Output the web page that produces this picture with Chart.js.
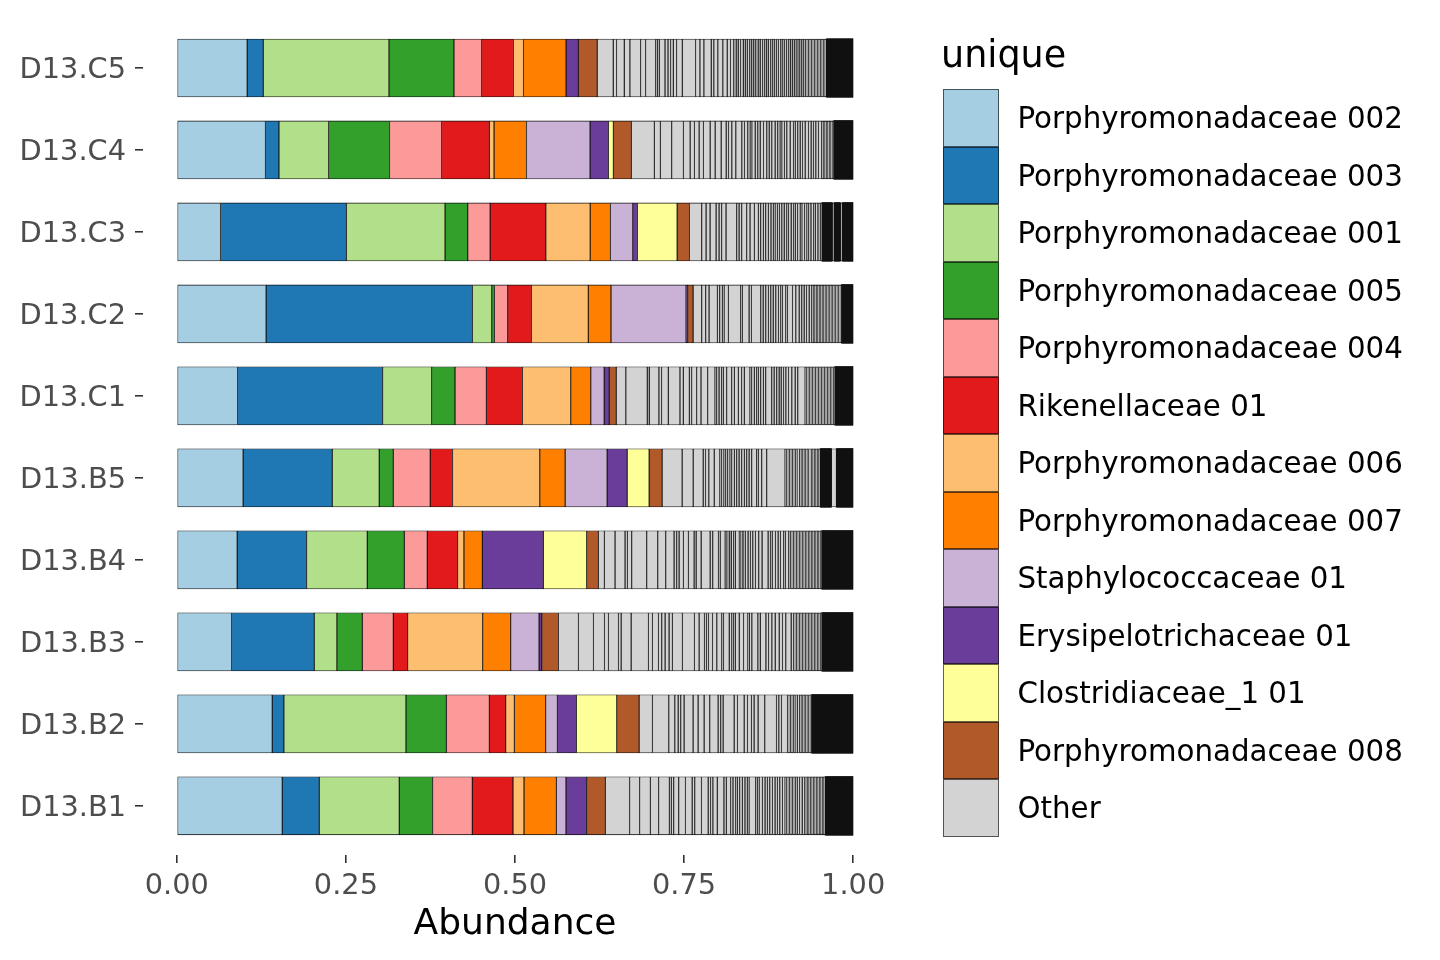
<!DOCTYPE html>
<html><head><meta charset="utf-8">
<script src="https://cdn.jsdelivr.net/npm/chart.js@4.4.1/dist/chart.umd.min.js"></script>
<style>
html,body{margin:0;padding:0;background:#fff;}
#wrap{position:relative;width:1440px;height:960px;font-family:"DejaVu Sans",sans-serif;overflow:hidden;}
#c{position:absolute;left:0;top:0;}
#legend{position:absolute;left:943px;top:0;width:490px;height:960px;}
.lt{position:absolute;left:-2px;top:30px;font-size:36.5px;line-height:50px;white-space:nowrap;color:#000;}
.box{position:absolute;left:0;width:56px;height:57.5px;box-sizing:border-box;border:1px solid rgba(0,0,0,0.6);}
.lab{position:absolute;left:74.5px;font-size:29.3px;line-height:40px;white-space:nowrap;color:#000;}
</style></head><body>
<div id="wrap"><canvas id="c" width="1440" height="960"></canvas><div id="legend"></div></div>
<script>
// Categories, top to bottom
const categories = ['D13.C5','D13.C4','D13.C3','D13.C2','D13.C1','D13.B5','D13.B4','D13.B3','D13.B2','D13.B1'];
const xTicks = [0, 0.25, 0.5, 0.75, 1];

const taxa = ['Porphyromonadaceae 002','Porphyromonadaceae 003','Porphyromonadaceae 001','Porphyromonadaceae 005','Porphyromonadaceae 004','Rikenellaceae 01','Porphyromonadaceae 006','Porphyromonadaceae 007','Staphylococcaceae 01','Erysipelotrichaceae 01','Clostridiaceae_1 01','Porphyromonadaceae 008'];
const taxaColors = ['#A6CEE3','#1F78B4','#B2DF8A','#33A02C','#FB9A99','#E31A1C','#FDBF6F','#FF7F00','#CAB2D6','#6A3D9A','#FFFF99','#B15928'];
const otherLabel = 'Other';
const otherColor = '#D3D3D3';

// Abundance per taxon, in category order (C5 ... B1)
const p002  = [0.104, 0.131, 0.0646, 0.132, 0.0898, 0.098, 0.0892, 0.0809, 0.141, 0.1558];
const p003  = [0.0237, 0.020, 0.186, 0.305, 0.2145, 0.1317, 0.1027, 0.1222, 0.0173, 0.0547];
const p001  = [0.186, 0.0735, 0.146, 0.0287, 0.0725, 0.0695, 0.0896, 0.0336, 0.1805, 0.1183];
const p005  = [0.096, 0.090, 0.0336, 0.0038, 0.0345, 0.0207, 0.0547, 0.0374, 0.0596, 0.0494];
const p004  = [0.041, 0.077, 0.033, 0.0198, 0.0463, 0.0547, 0.034, 0.0459, 0.0636, 0.0586];
const rik01 = [0.047, 0.0705, 0.0824, 0.035, 0.0533, 0.0331, 0.045, 0.0213, 0.0243, 0.0602];
const p006  = [0.0148, 0.007, 0.0655, 0.084, 0.0716, 0.129, 0.0093, 0.111, 0.0127, 0.0163];
const p007  = [0.063, 0.048, 0.030, 0.0336, 0.0296, 0.0374, 0.0271, 0.0414, 0.0464, 0.0478];
const staph01 = [0, 0.094, 0.0331, 0.111, 0.0197, 0.0621, 0, 0.0419, 0.0172, 0.0143];
const erys01  = [0.018, 0.027, 0.0068, 0.0025, 0.0074, 0.0296, 0.0902, 0.004, 0.0281, 0.0306];
const clost01 = [0, 0.0074, 0.0587, 0, 0, 0.0325, 0.0642, 0, 0.0598, 0];
const p008  = [0.028, 0.0266, 0.0182, 0.0079, 0.0104, 0.0192, 0.0172, 0.0246, 0.033, 0.0275];
const taxaValues = [p002,p003,p001,p005,p004,rik01,p006,p007,staph01,erys01,clost01,p008];

// "Other" taxa abundances per sample (left to right in the stack)
const otherC5 = [0.0237,0.0049,0.0114,0.0084,0.0158,0.0074,0.0148,0.0025,0.0030,0.0084,0.0044,0.0039,0.0039,0.0049,0.0084,0.0197,0.0064,0.0059,0.0108,0.0039,0.0059,0.0074,0.0064,0.0049,0.0049,
0.0035,0.0030,0.0035,0.0040,0.0030,0.0030,0.0035,0.0030,0.0030,0.0030,0.0035,0.0030,0.0035,0.0030,0.0025,0.0030,0.0035,0.0030,0.0025,0.0030,0.0030,0.0035,0.0030,0.0025,0.0030,0.0030,0.0025,0.0030,0.0030,0.0025,0.0030,0.0025,0.0030,0.0030,0.0025,
0.0022,0.0022,0.0022,0.0022,0.0022,0.0022,0.0022,0.0022,0.0022,0.0022,0.0022,0.0022,0.0022,0.0022,
0.0015,0.0015,0.0015,0.0015,0.0015,0.0015,0.0015,0.0015,0.0015,0.0015,0.0015,0.0015,0.0015,0.0015,
0.0015,0.0015,0.0015,0.0015,0.0015,0.0015,0.0015,0.0015,0.0015,0.0015,0.0015,0.0015,0.0015,0.0015,0.0015,0.0015];
const otherC4 = [0.0340,0.0089,0.0168,0.0173,0.0099,0.0064,0.0069,0.0064,0.0099,0.0074,0.0089,0.0074,0.0035,0.0049,0.0059,0.0089,0.0039,0.0049,0.0035,0.0025,0.0049,0.0039,0.0035,0.0049,0.0049,0.0035,0.0039,0.0049,0.0039,0.0035,0.0025,0.0039,0.0035,0.0049,0.0049,0.0025,0.0039,0.0035,0.0035,0.0039,0.0049,0.0039,0.0035,0.0035,0.0039,0.0049,
0.0022,0.0022,0.0022,0.0022,0.0022,0.0022,0.0022,0.0022,
0.0015,0.0015,0.0015,0.0015,0.0015,0.0015,0.0015,0.0015,0.0015,0.0015,0.0015,0.0015,0.0015,0.0015,
0.0015,0.0015,0.0015,0.0015,0.0015,0.0015,0.0015,0.0015,0.0015,0.0015];
const otherC3 = [0.0182,0.0064,0.0059,0.0089,0.0044,0.0039,0.0064,0.0158,0.0035,0.0039,0.0074,0.0049,0.0064,0.0059,0.0035,0.0039,0.0035,0.0039,0.0039,0.0035,0.0025,0.0035,0.0030,0.0035,0.0035,0.0039,0.0025,0.0039,0.0035,0.0025,0.0035,0.0039,0.0025,0.0039,0.0035,0.0025,0.0035,0.0039,0.0025,0.0039,0.0035,0.0025,
0.0015,0.0015,0.0015,0.0015,0.0015,0.0015,0.0015,0.0015,0.0015,0.0015,0.0030,
0.0015,0.0015,0.0015,0.0015,0.0015,0.0015,0.0030,
0.0015,0.0015,0.0015,0.0015,0.0015,0.0015,0.0015,0.0015,0.0015,0.0015,0.0015,0.0015,0.0015,0.0015];
const otherC2 = [0.0128,0.0059,0.0049,0.0123,0.0035,0.0039,0.0025,0.0064,0.0182,0.0025,0.0099,0.0035,0.0138,0.0035,0.0039,0.0039,0.0035,0.0035,0.0039,0.0039,0.0035,0.0025,0.0049,0.0025,0.0074,0.0049,0.0049,0.0039,0.0035,0.0035,0.0039,0.0039,
0.0022,0.0022,0.0022,0.0022,0.0022,0.0022,0.0022,0.0022,0.0022,0.0022,0.0022,0.0022,0.0022,0.0022,0.0022,0.0022,0.0022,0.0022,0.0022,0.0022,
0.0015,0.0015,0.0015,0.0015,0.0015,0.0015,0.0015,0.0015,0.0015,0.0015,0.0015,0.0015,0.0015,0.0015,0.0015,0.0015];
const otherC1 = [0.0143,0.0316,0.0030,0.0143,0.0039,0.0099,0.0173,0.0049,0.0089,0.0035,0.0074,0.0064,0.0099,0.0108,0.0025,0.0035,0.0039,0.0025,0.0049,0.0074,0.0039,0.0059,0.0049,0.0039,0.0084,0.0025,0.0039,0.0035,0.0025,0.0035,0.0039,0.0035,0.0089,0.0035,0.0039,0.0035,0.0030,0.0035,0.0035,0.0039,0.0049,0.0049,0.0039,0.0108,
0.0022,0.0022,0.0022,0.0022,0.0022,0.0022,0.0022,0.0022,0.0022,0.0022,0.0022,0.0022,0.0022,0.0022,0.0022,0.0022,0.0022,0.0022,0.0022,0.0022,
0.0015,0.0015,0.0015,0.0015,0.0015,0.0015,0.0015,0.0015,0.0015,0.0015,0.0015,0.0015,0.0015,0.0015,
0.0015,0.0015,0.0015,0.0015,0.0015,0.0015,0.0015,0.0015,0.0015];
const otherB5 = [0.0296,0.0163,0.0148,0.0035,0.0049,0.0079,0.0084,0.0025,0.0035,0.0025,0.0030,0.0035,0.0025,0.0039,0.0035,0.0035,0.0039,0.0039,0.0035,0.0035,0.0039,0.0074,0.0025,0.0049,0.0074,0.0271,
0.0022,0.0022,0.0022,0.0022,0.0022,0.0022,0.0022,0.0022,0.0040,
0.0022,0.0022,0.0022,0.0022,0.0022,0.0022,0.0040,
0.0022,0.0022,0.0022,0.0022,0.0022,0.0022,
0.0015,0.0015,0.0015,0.0015,0.0015,0.0015,0.0015,0.0015,0.0015,0.0015,0.0015,0.0074,
0.0015,0.0015,0.0015,0.0015,0.0015,0.0015,0.0015,0.0015,0.0015,0.0015,0.0015,0.0015,0.0015,0.0015,0.0015,0.0015,0.0015,0.0015,0.0015,0.0015];
const otherB4 = [0.0089,0.0158,0.0148,0.0035,0.0064,0.0222,0.0163,0.0118,0.0123,0.0039,0.0035,0.0064,0.0074,0.0084,0.0030,0.0074,0.0133,0.0039,0.0084,0.0025,0.0074,0.0025,0.0035,0.0030,0.0035,0.0025,0.0059,
0.0022,0.0022,0.0022,
0.0025,0.0039,0.0035,0.0035,0.0039,0.0049,0.0049,0.0089,0.0035,0.0025,0.0049,0.0039,0.0035,0.0049,0.0025,0.0049,0.0025,
0.0022,0.0022,0.0022,0.0022,0.0022,0.0022,0.0022,0.0022,0.0022,0.0022,0.0022,0.0022,0.0022,0.0022,0.0022,0.0022,0.0022,0.0022,0.0022,0.0022,0.0022,
0.0015,0.0015,0.0015,0.0015,0.0015,0.0015,0.0015,0.0015,0.0015,0.0015,0.0015,0.0015,0.0015,0.0015,
0.0015,0.0015,0.0015,0.0015,0.0015,0.0015,0.0015,0.0015,0.0015,0.0015,0.0015,0.0015,0.0015,0.0015,
0.0015,0.0015,0.0015,0.0015,0.0015,0.0015,0.0015,0.0015];
const otherB3 = [0.0296,0.0222,0.0163,0.0059,0.0148,0.0039,0.0148,0.0256,0.0059,0.0089,0.0049,0.0049,0.0059,0.0049,0.0148,0.0178,0.0069,0.0079,0.0030,0.0030,0.0059,0.0064,0.0074,0.0025,0.0084,0.0039,0.0025,0.0025,0.0059,0.0064,0.0064,0.0020,0.0039,0.0089,0.0035,0.0084,0.0039,0.0049,0.0049,0.0059,0.0049,0.0049,0.0079,0.0035,
0.0022,0.0022,0.0022,0.0022,0.0022,0.0022,0.0022,0.0022,0.0022,0.0022,0.0022,0.0022,0.0022,0.0022,0.0022,0.0022,0.0022,0.0022,0.0022,
0.0015,0.0015,0.0015,0.0015,0.0015,0.0015,0.0015,0.0015,0.0015,0.0015,0.0015,0.0015,0.0015,0.0015,
0.0015,0.0015,0.0015,0.0015,0.0015,0.0015,0.0015,0.0015,0.0015,0.0015,0.0015,0.0015,0.0015,0.0015,
0.0015,0.0015,0.0015,0.0015,0.0015,0.0015,0.0015,0.0015];
const otherB2 = [0.0197,0.0242,0.0089,0.0049,0.0039,0.0049,0.0133,0.0074,0.0089,0.0084,0.0123,0.0039,0.0035,0.0163,0.0049,0.0099,0.0049,0.0059,0.0039,0.0059,0.0099,0.0173,0.0035,0.0039,0.0089,
0.0022,0.0022,0.0022,0.0022,0.0022,0.0035,0.0035,
0.0022,0.0022,0.0022,0.0022,0.0022,0.0022,0.0022,0.0022,
0.0015,0.0015,0.0015,0.0015,0.0015,0.0015,0.0015,0.0015,0.0015,0.0015,0.0015,0.0015,0.0015,0.0015,
0.0015,0.0015,0.0015,0.0015,0.0015,0.0015,0.0015,0.0015,0.0015,0.0015,0.0015,0.0015,0.0015,0.0015,
0.0015,0.0015,0.0015,0.0015,0.0015,0.0015,0.0015,0.0015,0.0015,0.0015,0.0015,0.0015,0.0015,0.0015,
0.0015,0.0015];
const otherB1 = [0.0360,0.0148,0.0158,0.0123,0.0158,0.0030,0.0035,0.0074,0.0099,0.0099,0.0039,0.0099,0.0099,0.0035,0.0035,0.0064,0.0099,0.0035,0.0064,0.0035,0.0039,0.0025,0.0035,0.0039,0.0039,0.0035,0.0025,0.0099,0.0025,0.0025,0.0049,0.0039,0.0035,0.0035,0.0039,0.0039,0.0035,0.0035,0.0039,0.0039,
0.0022,0.0022,0.0022,0.0022,0.0022,0.0022,0.0022,
0.0025,0.0035,0.0039,0.0039,0.0035,0.0025,
0.0022,0.0022,0.0022,0.0022,0.0022,0.0022,0.0022,0.0022,0.0022,0.0022,0.0022,
0.0015,0.0015,0.0015,0.0015,0.0015,0.0015,0.0015,0.0015,0.0015,0.0015,0.0015,0.0015,0.0015,0.0015,
0.0015,0.0015,0.0015,0.0015,0.0015,0.0015,0.0015,0.0015,0.0015,0.0015,0.0015,0.0015,0.0015,0.0015,
0.0015,0.0015,0.0015,0.0015,0.0015];
const otherLists = [otherC5, otherC4, otherC3, otherC2, otherC1, otherB5, otherB4, otherB3, otherB2, otherB1];

// ---- styling helpers ----
// Segments narrower than about one pixel are rendered entirely as outline (as in the original renderer).
const TINY = 0.0017;
const OUTLINE = '#111111';
const isTiny = c => c.raw && c.raw.x > 0 && c.raw.x < TINY;

// ---- build datasets ----
const datasets = taxa.map((name, k) => ({
  label: name,
  data: taxaValues[k].map((v, i) => ({x: v, y: i})),
  backgroundColor: taxaColors[k]
}));
const maxOther = Math.max(...otherLists.map(a => a.length));
for (let j = 0; j < maxOther; j++) {
  datasets.push({
    label: otherLabel,
    data: otherLists.map((a, i) => ({x: j < a.length ? a[j] : 0, y: i})),
    backgroundColor: c => isTiny(c) ? OUTLINE : otherColor,
    borderWidth: c => isTiny(c) ? 0 : 0.8,
    inflateAmount: c => isTiny(c) ? 0.5 : 0.25
  });
}

// clip bars to the 0..1 abundance range
const clipUnit = {
  id: 'clipUnit',
  beforeDatasetsDraw(chart) {
    const xs = chart.scales.x, a = chart.chartArea, ctx = chart.ctx;
    const x0 = xs.getPixelForValue(0), x1 = xs.getPixelForValue(1);
    ctx.save();
    ctx.beginPath();
    ctx.rect(x0 - 1, a.top, x1 - x0 + 1, a.bottom - a.top);
    ctx.clip();
  },
  afterDatasetsDraw(chart) { chart.ctx.restore(); }
};

const FONT = 'DejaVu Sans';
new Chart(document.getElementById('c'), {
  type: 'bar',
  data: {datasets},
  options: {
    indexAxis: 'y',
    responsive: false,
    animation: false,
    devicePixelRatio: 1,
    layout: {padding: {top: 18.8, right: 553, bottom: 0, left: 0}},
    datasets: {bar: {barPercentage: 0.71, categoryPercentage: 1, borderWidth: 0.8, inflateAmount: 0.25, borderColor: OUTLINE, borderSkipped: false}},
    plugins: {legend: {display: false}, tooltip: {enabled: false}},
    scales: {
      x: {
        type: 'linear', stacked: true, min: -0.05, max: 1.05,
        afterBuildTicks: s => { s.ticks = xTicks.map(v => ({value: v})); },
        afterFit: s => { s.height = 105; },
        ticks: {callback: v => Number(v).toFixed(2), color: '#4D4D4D', font: {family: FONT, size: 28.8}, padding: 6, maxRotation: 0, autoSkip: false},
        grid: {display: true, drawOnChartArea: false, drawTicks: true, tickLength: 8, color: '#333333', lineWidth: 1.6, offset: false},
        border: {display: false},
        title: {display: true, text: 'Abundance', color: '#000', font: {family: FONT, size: 36}, padding: {top: 0, bottom: 14}}
      },
      y: {
        type: 'linear', stacked: true, reverse: true, min: -0.6, max: 9.6, offset: false,
        afterBuildTicks: s => { s.ticks = categories.map((c, i) => ({value: i})); },
        afterFit: s => { s.width = 143; s.paddingTop = 0; s.paddingBottom = 0; },
        ticks: {callback: v => categories[v], color: '#4D4D4D', font: {family: FONT, size: 28.8}, padding: 9, labelOffset: 2.5, autoSkip: false},
        grid: {display: true, drawOnChartArea: false, drawTicks: true, tickLength: 8, color: '#333333', lineWidth: 1.6, offset: false},
        border: {display: false}
      }
    }
  },
  plugins: [clipUnit]
});

// ---- legend ----
const lg = document.getElementById('legend');
const t = document.createElement('div'); t.className = 'lt'; t.textContent = 'unique'; lg.appendChild(t);
const legNames = taxa.concat([otherLabel]);
const legColors = taxaColors.concat([otherColor]);
legNames.forEach((n, i) => {
  const top = 89.2 + i * 57.5;
  const b = document.createElement('div'); b.className = 'box';
  b.style.top = top + 'px'; b.style.background = legColors[i]; lg.appendChild(b);
  const l = document.createElement('div'); l.className = 'lab';
  l.style.top = (top + 9) + 'px'; l.textContent = n; lg.appendChild(l);
});
</script>
</body></html>
